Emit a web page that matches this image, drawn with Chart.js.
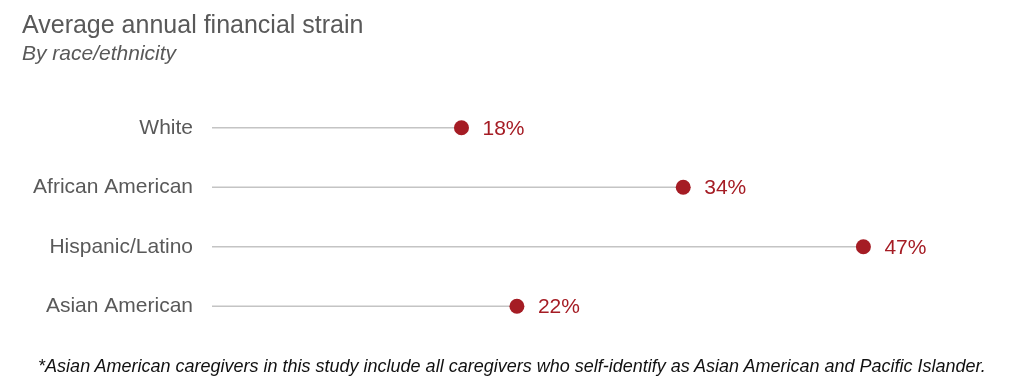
<!DOCTYPE html>
<html>
<head>
<meta charset="utf-8">
<script src="https://cdn.jsdelivr.net/npm/chart.js@4"></script>
<style>
  body { margin: 0; background: #fff; }
  #wrap { position: relative; width: 1024px; height: 388px; font-family: "Liberation Sans", Arial, sans-serif; }
  #title { position: absolute; left: 22px; top: 10px; font-size: 25px; color: #595959; line-height: 29px; }
  #subtitle { position: absolute; left: 22px; top: 41px; font-size: 21px; font-style: italic; color: #595959; line-height: 24px; }
  #note { position: absolute; left: 0; width: 1024px; top: 356px; text-align: center; font-size: 18px; line-height: 21px; font-style: italic; color: #111; }
  canvas { position: absolute; left: 0; top: 0; }
</style>
</head>
<body>
<div id="wrap">
  <canvas id="chart" width="1024" height="388"></canvas>
  <div id="title">Average annual financial strain</div>
  <div id="subtitle">By race/ethnicity</div>
  <div id="note">*Asian American caregivers in this study include all caregivers who self-identify as Asian American and Pacific Islander.</div>
</div>
<script>
const categories = ["White", "African American", "Hispanic/Latino", "Asian American"];
const strain = [18, 34, 47, 22];

const RED = "#a51c24";

// value labels next to each dot
const valueLabels = {
  id: "valueLabels",
  afterDatasetsDraw(chart) {
    const ctx = chart.ctx;
    const meta = chart.getDatasetMeta(1);
    ctx.save();
    ctx.font = '21px "Liberation Sans", Arial, sans-serif';
    ctx.fillStyle = RED;
    ctx.textBaseline = "middle";
    meta.data.forEach((pt, i) => {
      ctx.fillText(strain[i] + "%", pt.x + 21, pt.y + 1);
    });
    ctx.restore();
  }
};

new Chart(document.getElementById("chart"), {
  type: "bar",
  data: {
    labels: categories,
    datasets: [
      {
        data: strain,
        backgroundColor: "#c4c4c4",
        barThickness: 1,
        order: 2
      },
      {
        type: "line",
        data: strain,
        showLine: false,
        pointRadius: 7.5,
        pointBackgroundColor: RED,
        pointBorderWidth: 0,
        order: 1
      }
    ]
  },
  plugins: [valueLabels],
  options: {
    indexAxis: "y",
    responsive: false,
    animation: false,
    layout: { padding: { top: 98, bottom: 52, left: 0, right: 22 } },
    plugins: { legend: { display: false }, tooltip: { enabled: false } },
    scales: {
      x: {
        min: 0,
        max: 57,
        display: false
      },
      y: {
        grid: { display: false, drawTicks: false },
        border: { display: false },
        afterFit(scale) { scale.width = 212; },
        ticks: {
          padding: 19,
          color: "#595959",
          font: { family: '"Liberation Sans", Arial, sans-serif', size: 21 }
        }
      }
    }
  }
});
</script>
</body>
</html>
